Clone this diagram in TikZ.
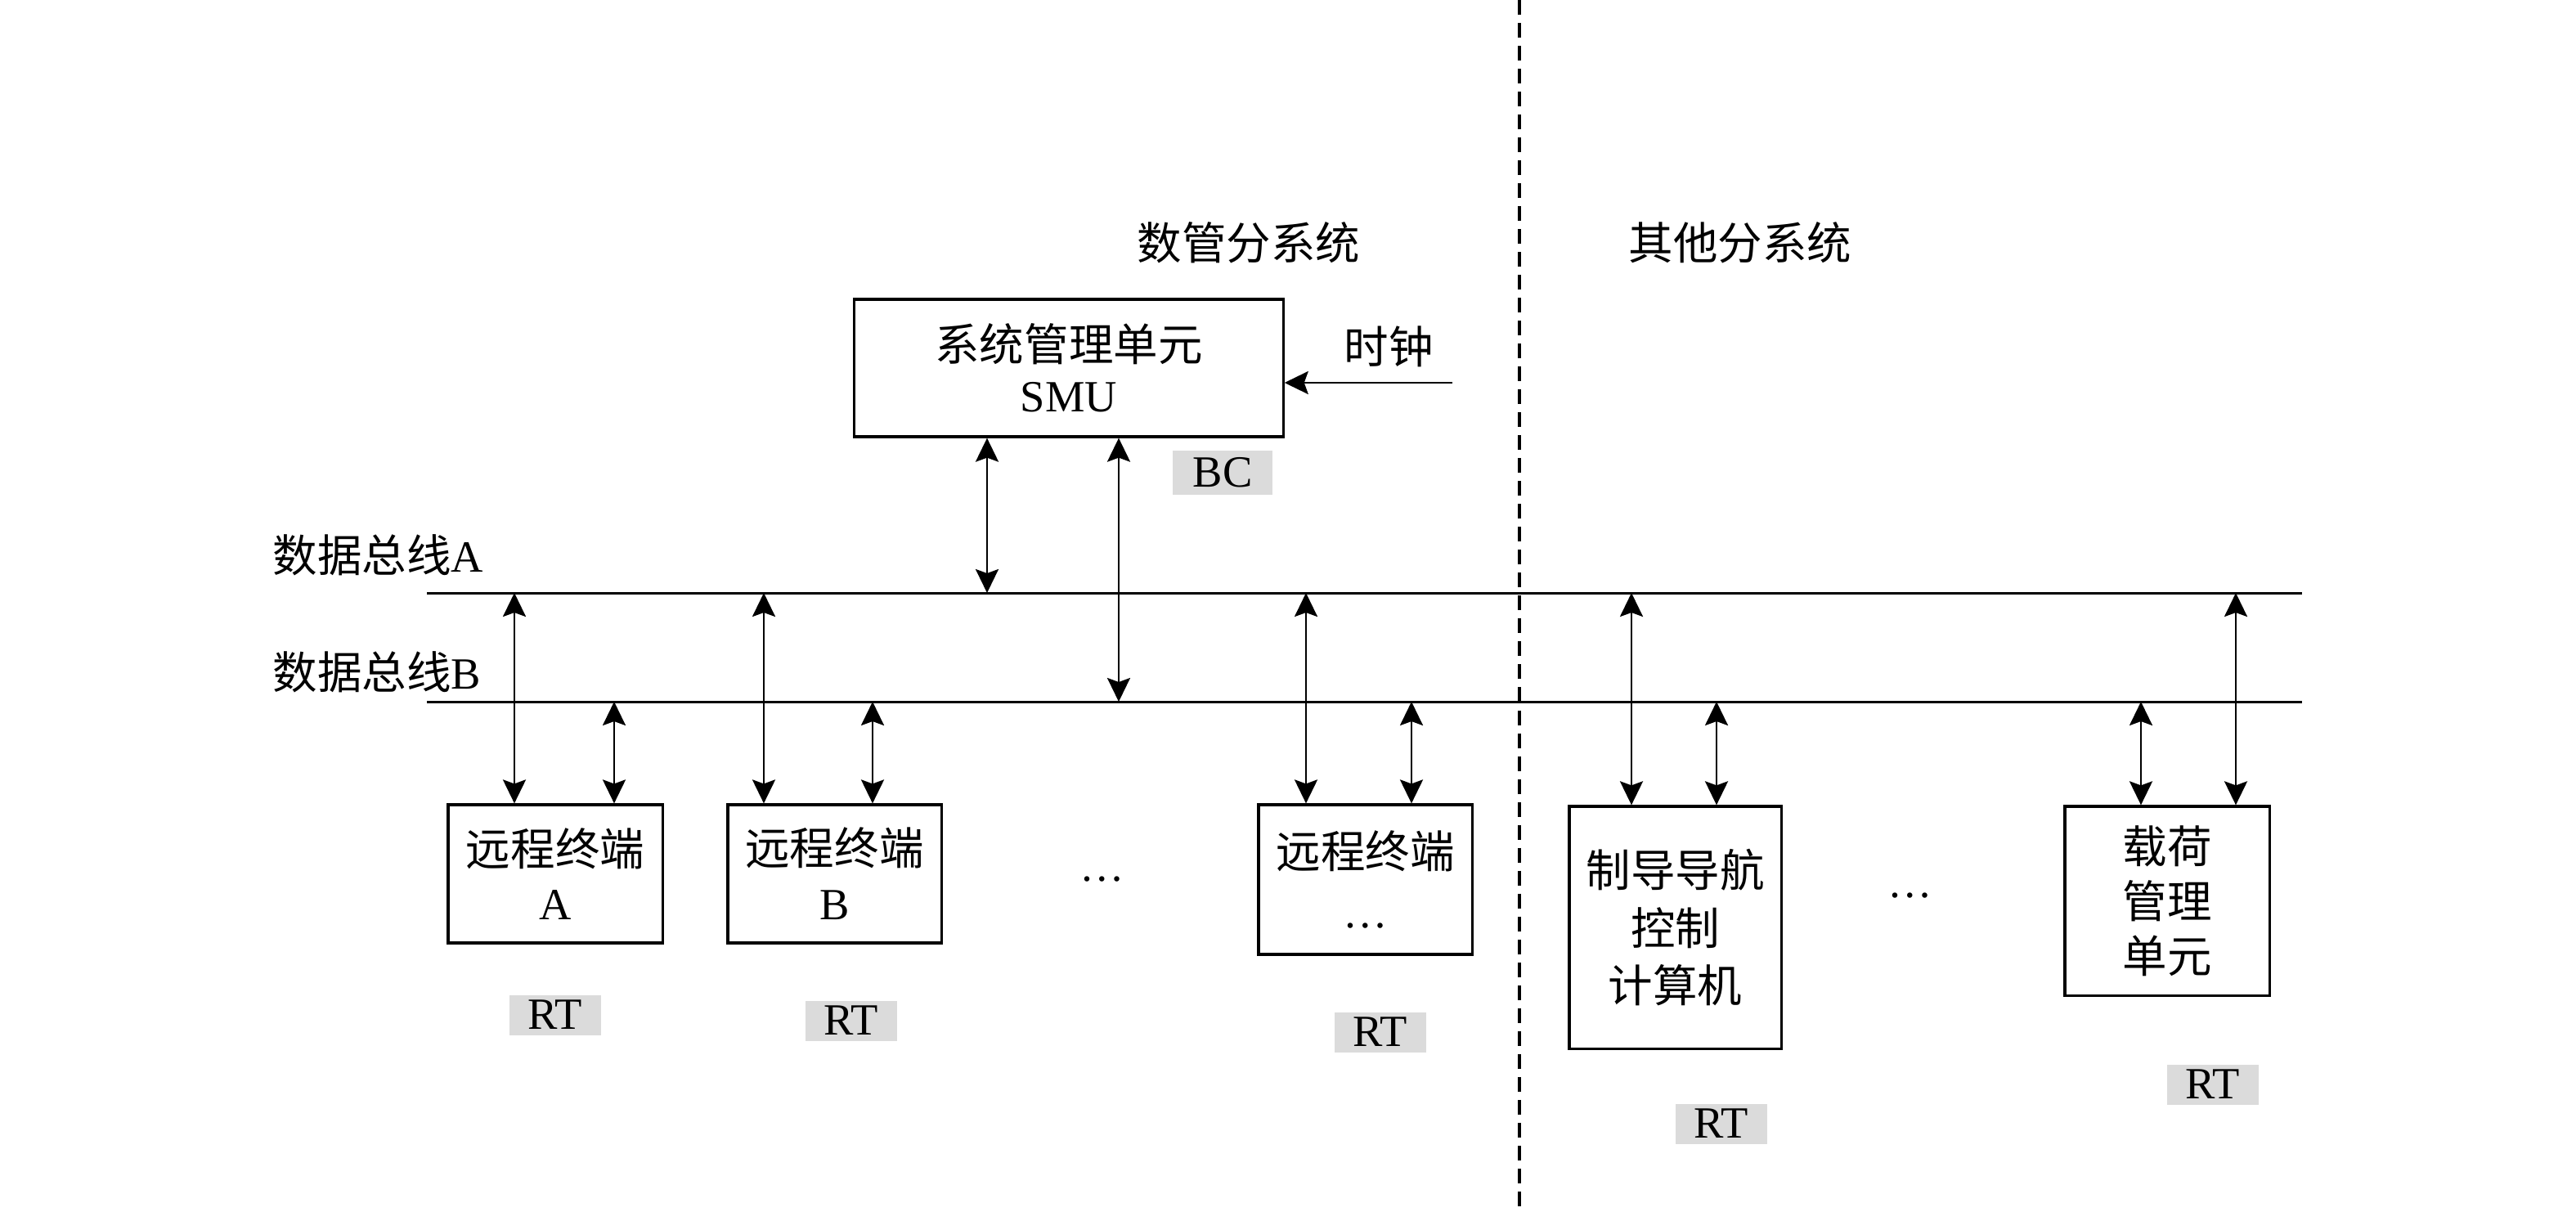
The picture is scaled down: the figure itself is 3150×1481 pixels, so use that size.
\documentclass[tikz,border=0pt]{standalone}
\usepackage{fontspec}
\setmainfont{Liberation Serif}
\newfontfamily\cjk{Noto Sans CJK SC}
\usetikzlibrary{arrows.meta}
\begin{document}
\begin{tikzpicture}[x=0.01cm,y=-0.01cm,
  txt/.style={font=\fontsize{15.5}{19}\selectfont},
  box/.style={draw, line width=0.9pt, align=center, inner sep=0pt, txt},
  tagbox/.style={fill=black!14, minimum width=1.12cm, minimum height=0.49cm, inner sep=0pt, txt},
  lbl/.style={inner sep=0pt, txt},
  bus/.style={line width=0.85pt},
  tip/.style={Stealth[length=2.9mm,width=2.8mm,inset=0.5mm]},
  bi/.style={line width=0.75pt, {Stealth[length=2.9mm,width=2.8mm,inset=0.5mm]}-{Stealth[length=2.9mm,width=2.8mm,inset=0.5mm]}},
  uni/.style={line width=0.75pt, -{Stealth[length=2.9mm,width=2.8mm,inset=0.5mm]}},
]
\useasboundingbox (0,0) rectangle (3150,1481);

% divider
\coordinate (dTop) at (1858,0);
\coordinate (dBot) at (1858,1481);
\draw[line width=1pt, dash pattern=on 1.8mm off 1mm] (dTop) -- (dBot);

% titles
\node[lbl] (t1) at (1527,297) {\cjk 数管分系统};
\node[lbl] (t2) at (2128,297) {\cjk 其他分系统};

% buses
\coordinate (aL) at (522,725);
\coordinate (aR) at (2815,725);
\coordinate (bL) at (522,858);
\coordinate (bR) at (2815,858);
\draw[bus] (aL) -- (aR);
\draw[bus] (bL) -- (bR);
\node[lbl, anchor=west] (la) at (333,679) {{\cjk 数据总线}A};
\node[lbl, anchor=west] (lb) at (333,822) {{\cjk 数据总线}B};

% SMU
\node[box, minimum width=5.24cm, minimum height=1.68cm, font=\fontsize{15.5}{17.5}\selectfont] (smu) at (1307,450)
  {{\cjk 系统管理单元}\\SMU};
\node[tagbox, minimum width=1.21cm, minimum height=0.53cm] (bc) at (1495,578) {BC};
\node[lbl] (clkt) at (1698,424) {\cjk 时钟};
\coordinate (clk) at (1776,468);
\draw[uni] (clk) -- (clk -| smu.east);
\coordinate (sA) at (1207,725);
\coordinate (sB) at (1368,858);
\draw[bi] (smu.south -| sA) -- (sA);
\draw[bi] (smu.south -| sB) -- (sB);

% RT A
\node[box, minimum width=2.62cm, minimum height=1.69cm] (rta) at (679,1068.5)
  {{\cjk 远程终端}\\A};
\node[tagbox] (tga) at (679,1241) {RT};
\coordinate (raA) at (629,725);
\coordinate (raB) at (751,858);
\draw[bi] (raA) -- (rta.north -| raA);
\draw[bi] (raB) -- (rta.north -| raB);

% RT B
\node[box, minimum width=2.61cm, minimum height=1.69cm] (rtb) at (1020.5,1068.5)
  {{\cjk 远程终端}\\B};
\node[tagbox] (tgb) at (1041,1248) {RT};
\coordinate (rbA) at (934,725);
\coordinate (rbB) at (1067,858);
\draw[bi] (rbA) -- (rtb.north -| rbA);
\draw[bi] (rbB) -- (rtb.north -| rbB);

\node[lbl] (dots1) at (1348,1075) {…};

% RT ...
\node[box, minimum width=2.61cm, minimum height=1.83cm] (rtc) at (1669.5,1075.5)
  {{\cjk 远程终端}\\[2pt]…};
\node[tagbox] (tgc) at (1688,1262) {RT};
\coordinate (rcA) at (1597,725);
\coordinate (rcB) at (1726,858);
\draw[bi] (rcA) -- (rtc.north -| rcA);
\draw[bi] (rcB) -- (rtc.north -| rcB);

% guidance computer
\node[box, minimum width=2.59cm, minimum height=2.96cm, font=\fontsize{15.5}{20}\selectfont] (gnc) at (2048.5,1134)
  {\cjk 制导导航\\\cjk 控制\\\cjk 计算机};
\node[tagbox] (tgd) at (2105,1374) {RT};
\coordinate (rdA) at (1995,725);
\coordinate (rdB) at (2099,858);
\draw[bi] (rdA) -- (gnc.north -| rdA);
\draw[bi] (rdB) -- (gnc.north -| rdB);

\node[lbl] (dots2) at (2336,1095) {…};

% payload
\node[box, minimum width=2.50cm, minimum height=2.31cm] (pay) at (2650,1101.5)
  {\cjk 载荷\\\cjk 管理\\\cjk 单元};
\node[tagbox] (tge) at (2706,1326) {RT};
\coordinate (reA) at (2734,725);
\coordinate (reB) at (2618,858);
\draw[bi] (reA) -- (pay.north -| reA);
\draw[bi] (reB) -- (pay.north -| reB);
\end{tikzpicture}
\end{document}
